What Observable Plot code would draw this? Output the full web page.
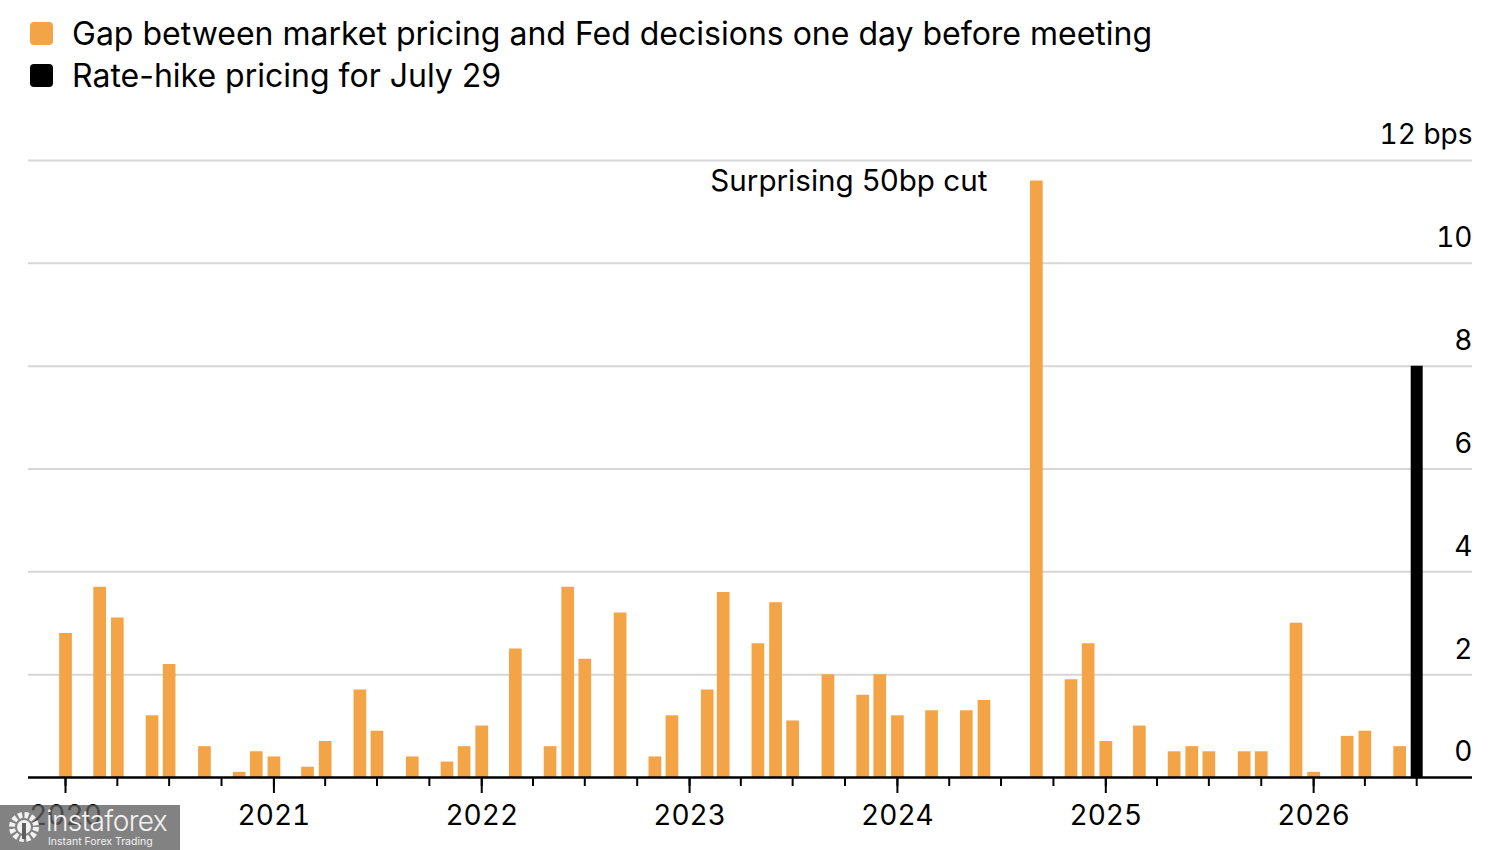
<!DOCTYPE html>
<html>
<head>
<meta charset="utf-8">
<script src="https://cdn.jsdelivr.net/npm/d3@7"></script>
<script src="https://cdn.jsdelivr.net/npm/@observablehq/plot@0.6"></script>
<style>
  html, body { margin: 0; padding: 0; background: #fff; overflow: hidden; }
  #wrap { position: relative; width: 1500px; height: 850px; font-family: Inter, "Liberation Sans", sans-serif; color: #000; }
  .leg { position: absolute; left: 30px; height: 40px; display: flex; align-items: center; font-size: 32px; white-space: nowrap; }
  .sw { width: 23px; height: 23px; border-radius: 4px; margin-right: 19px; flex: none; }
  #chart { position: absolute; left: 0; top: 110px; }
  #wm { position: absolute; left: 0; top: 805px; width: 180px; height: 45px; background: rgba(95,95,95,0.78); color: #f2f2f2; z-index: 5; overflow: hidden; }
  #wm .big { position: absolute; left: 46px; top: -1px; font-size: 28px; font-weight: 300; letter-spacing: -0.6px; }
  #wm .small { position: absolute; left: 48px; top: 30px; font-size: 10.5px; }
  #wm svg { position: absolute; left: 6px; top: 4px; }
</style>
</head>
<body>
<div id="wrap">
  <div class="leg" style="top:13px"><div class="sw" id="sw1"></div><span id="l1"></span></div>
  <div class="leg" style="top:55px"><div class="sw" id="sw2"></div><span id="l2"></span></div>
  <div id="chart"></div>
  <div id="wm">
    <svg width="36" height="36" viewBox="0 0 36 36">
      <circle cx="18" cy="18" r="12" fill="none" stroke="#f2f2f2" stroke-width="6" stroke-dasharray="4 2.3"/>
      <circle cx="18" cy="18" r="7" fill="#f2f2f2"/>
      <rect x="16" y="14" width="4" height="16" fill="rgba(95,95,95,1)"/>
    </svg>
    <div class="big">instaforex</div>
    <div class="small">Instant Forex Trading</div>
  </div>
</div>
<script>
// ---- data ----
const meetings = [
  "2020-01","2020-03","2020-04","2020-06","2020-07","2020-09","2020-11","2020-12",
  "2021-01","2021-03","2021-04","2021-06","2021-07","2021-09","2021-11","2021-12",
  "2022-01","2022-03","2022-05","2022-06","2022-07","2022-09","2022-11","2022-12",
  "2023-02","2023-03","2023-05","2023-06","2023-07","2023-09","2023-11","2023-12",
  "2024-01","2024-03","2024-05","2024-06","2024-09","2024-11","2024-12",
  "2025-01","2025-03","2025-05","2025-06","2025-07","2025-09","2025-10","2025-12",
  "2026-01","2026-03","2026-04","2026-06"
];
const gapBps = [
  2.8, 3.7, 3.1, 1.2, 2.2, 0.6, 0.1, 0.5,
  0.4, 0.2, 0.7, 1.7, 0.9, 0.4, 0.3, 0.6,
  1.0, 2.5, 0.6, 3.7, 2.3, 3.2, 0.4, 1.2,
  1.7, 3.6, 2.6, 3.4, 1.1, 2.0, 1.6, 2.0,
  1.2, 1.3, 1.3, 1.5, 11.6, 1.9, 2.6,
  0.7, 1.0, 0.5, 0.6, 0.5, 0.5, 0.5, 3.0,
  0.1, 0.8, 0.9, 0.6
];
const hikeMeeting = ["2026-07"];
const hikeBps = [8.0];
const annotationMeeting = ["2024-09"];
const annotationValue = [11.6];
const annotationText = ["Surprising 50bp cut"];
const yTicks = [0, 2, 4, 6, 8, 10, 12];
const yTickLabels = ["0", "2", "4", "6", "8", "10", "12 bps"];
const legendLabels = [
  "Gap between market pricing and Fed decisions one day before meeting",
  "Rate-hike pricing for July 29"
];
const xDomain = ["2019-10-28", "2026-10-07"];
const xTickRange = ["2020-01-01", "2026-08-01"];

// ---- styles ----
const ORANGE = "#f3a447";
const BLACK = "#000000";
const FONT = "Inter, 'Liberation Sans', sans-serif";

document.getElementById("sw1").style.background = ORANGE;
document.getElementById("sw2").style.background = BLACK;
document.getElementById("l1").textContent = legendLabels[0];
document.getElementById("l2").textContent = legendLabels[1];

const parseM = d3.utcParse("%Y-%m");
const parseD = d3.utcParse("%Y-%m-%d");
const gapData = meetings.map((m, i) => ({date: parseM(m), value: gapBps[i]}));
const hikeData = hikeMeeting.map((m, i) => ({date: parseM(m), value: hikeBps[i]}));
const annData = annotationMeeting.map((m, i) => ({date: parseM(m), value: annotationValue[i], text: annotationText[i]}));
const dom = xDomain.map(parseD);
const tr = xTickRange.map(parseD);
const quarterTicks = d3.utcMonth.every(3).range(tr[0], tr[1]);
const yearTicks = d3.utcYear.range(tr[0], tr[1]);

const chart = Plot.plot({
  width: 1500,
  height: 740,
  marginTop: 50,
  marginBottom: 73,
  marginLeft: 28,
  marginRight: 28,
  style: {fontFamily: FONT, background: "transparent", color: "#000"},
  x: {type: "utc", domain: dom},
  y: {domain: [0, 12]},
  marks: [
    Plot.ruleY(yTicks.filter(d => d > 0), {stroke: "#d6d6d6", strokeWidth: 2}),
    Plot.axisY({
      anchor: "right", ticks: yTicks, tickSize: 0, tickPadding: 0,
      textAnchor: "end", dy: -25, fontSize: 28,
      tickFormat: d => yTickLabels[yTicks.indexOf(d)], label: null
    }),
    Plot.ruleX(gapData, {x: "date", y1: 0, y2: "value", stroke: ORANGE, strokeWidth: 12.7}),
    Plot.ruleX(hikeData, {x: "date", y1: 0, y2: "value", stroke: BLACK, strokeWidth: 12}),
    Plot.ruleY([0], {stroke: BLACK, strokeWidth: 2.5}),
    Plot.axisX({ticks: quarterTicks, tickSize: 9, strokeWidth: 2, tickFormat: () => "", label: null}),
    Plot.axisX({ticks: yearTicks, tickSize: 16, tickPadding: 12, strokeWidth: 2, fontSize: 28, tickFormat: d3.utcFormat("%Y"), label: null}),
    Plot.text(annData, {x: "date", y: "value", text: "text", textAnchor: "end", lineAnchor: "middle", dx: -49, fontSize: 29.6})
  ]
});
document.getElementById("chart").appendChild(chart);
</script>
</body>
</html>
